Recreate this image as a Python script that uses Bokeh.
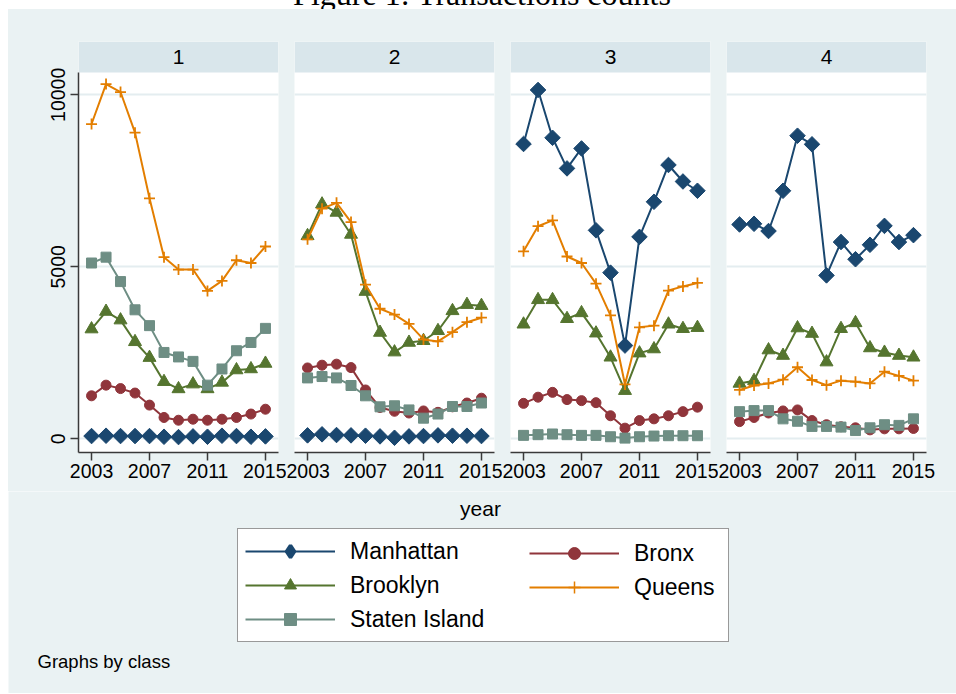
import numpy as np
from bokeh.plotting import figure
from bokeh.models import Range1d, BoxAnnotation, Label, Legend, LegendItem, Div, FixedTicker
from bokeh.layouts import row, column
from bokeh.embed import file_html
from bokeh.resources import INLINE

# ---------------- data ----------------
years = list(range(2003, 2016))
panel_names = ["1", "2", "3", "4"]
x_ticks = [2003, 2007, 2011, 2015]
y_ticks = [0, 5000, 10000]

# one list per class panel (1..4), values for 2003..2015
manhattan = [
    [80, 90, 80, 80, 80, 60, 50, 70, 60, 90, 80, 60, 70],
    [100, 130, 110, 100, 90, 70, 30, 70, 80, 100, 90, 90, 80],
    [8570, 10140, 8750, 7860, 8440, 6060, 4830, 2710, 5870, 6890, 7960, 7480, 7210],
    [6230, 6250, 6040, 7210, 8810, 8560, 4750, 5720, 5220, 5640, 6190, 5720, 5920],
]
bronx = [
    [1250, 1560, 1460, 1330, 980, 620, 540, 570, 540, 570, 620, 720, 860],
    [2060, 2140, 2170, 2070, 1420, 910, 800, 750, 810, 770, 930, 1040, 1180],
    [1030, 1210, 1350, 1140, 1110, 1050, 670, 310, 530, 580, 670, 790, 920],
    [500, 620, 750, 810, 840, 530, 410, 350, 320, 260, 290, 290, 300],
]
brooklyn = [
    [3190, 3700, 3450, 2820, 2360, 1660, 1450, 1590, 1450, 1640, 2000, 2030, 2190],
    [5900, 6820, 6580, 5940, 4280, 3090, 2520, 2800, 2850, 3140, 3720, 3900, 3870],
    [3330, 4040, 4040, 3490, 3660, 3070, 2370, 1400, 2490, 2610, 3330, 3200, 3230],
    [1610, 1690, 2580, 2420, 3220, 3060, 2230, 3200, 3370, 2640, 2510, 2420, 2370],
]
queens = [
    [9150, 10310, 10080, 8900, 6990, 5280, 4920, 4920, 4300, 4590, 5190, 5110, 5590],
    [5800, 6690, 6860, 6300, 4480, 3780, 3610, 3340, 2890, 2830, 3100, 3390, 3520],
    [5450, 6180, 6350, 5300, 5110, 4510, 3590, 1580, 3240, 3290, 4310, 4430, 4530],
    [1420, 1550, 1610, 1720, 2080, 1710, 1560, 1690, 1660, 1610, 1950, 1830, 1690],
]
staten = [
    [5110, 5280, 4570, 3750, 3290, 2510, 2380, 2250, 1560, 2030, 2560, 2800, 3210],
    [1770, 1810, 1770, 1550, 1250, 930, 960, 840, 600, 720, 940, 940, 1040],
    [100, 120, 140, 120, 100, 100, 60, 20, 60, 80, 90, 90, 90],
    [790, 820, 820, 580, 510, 360, 360, 340, 240, 320, 410, 390, 580],
]
series_names = ["Manhattan", "Bronx", "Brooklyn", "Queens", "Staten Island"]
series_values = [manhattan, bronx, brooklyn, queens, staten]

# ---------------- styles ----------------
BG = "#EAF2F3"
STRIP = "#D9E6EB"
GRID = "#E4EDF0"
AXIS = "#3A3A3A"
FONT = "Liberation Sans"
colors = ["#1A476F", "#90353B", "#55752F", "#E37E00", "#6E8E84"]
markers = ["square", "circle", "triangle", "cross", "square"]
legend_markers = ["diamond", "circle", "triangle", "cross", "square"]
angles = [np.pi / 4, 0, 0, 0, 0]
sizes = [11, 10, 13, 11, 10]

Y0, Y1, YTOP = -398, 10648, 11549
X0, X1 = 2002.1, 2015.9


def make_panel(idx, width, left, right, show_y):
    p = figure(width=width, height=482,
               x_range=Range1d(X0, X1), y_range=Range1d(Y0, YTOP),
               output_backend="svg", toolbar_location=None,
               min_border_left=left, min_border_right=right,
               min_border_top=32, min_border_bottom=39)
    p.background_fill_color = "white"
    p.border_fill_color = BG
    p.outline_line_color = None

    # strip header
    strip = BoxAnnotation(bottom=Y1, top=YTOP, fill_color=STRIP, fill_alpha=1.0,
                          line_color=None, level="underlay")
    p.add_layout(strip)
    p.add_layout(Label(x=(X0 + X1) / 2, y=(Y1 + YTOP) / 2, text=panel_names[idx],
                       text_align="center", text_baseline="middle",
                       text_font=FONT, text_font_size="21px", text_color="black"))

    for name, vals, c, m, a, s in zip(series_names, series_values, colors, markers, angles, sizes):
        p.line(years, vals[idx], line_color=c, line_width=2)
        if m == "cross":
            p.scatter(years, vals[idx], marker=m, size=s, line_color=c, line_width=1.8)
        else:
            p.scatter(years, vals[idx], marker=m, size=s, angle=a,
                      fill_color=c, line_color=c, line_width=1)

    p.xgrid.visible = False
    p.ygrid.ticker = FixedTicker(ticks=y_ticks)
    p.ygrid.grid_line_color = GRID
    p.ygrid.grid_line_width = 2

    xa = p.xaxis[0]
    xa.ticker = FixedTicker(ticks=x_ticks)
    xa.axis_line_color = AXIS
    xa.axis_line_width = 1.5
    xa.major_tick_line_color = AXIS
    xa.major_tick_line_width = 1.5
    xa.major_tick_out = 8
    xa.major_tick_in = 0
    xa.minor_tick_line_color = None
    xa.major_label_standoff = 3
    xa.major_label_text_font = FONT
    xa.major_label_text_font_size = "19.5px"
    xa.major_label_text_color = "black"

    ya = p.yaxis[0]
    if show_y:
        ya.ticker = FixedTicker(ticks=y_ticks)
        ya.bounds = (Y0, Y1)
        ya.axis_line_color = AXIS
        ya.axis_line_width = 1.5
        ya.major_tick_line_color = AXIS
        ya.major_tick_line_width = 1.5
        ya.major_tick_out = 8
        ya.major_tick_in = 0
        ya.minor_tick_line_color = None
        ya.major_label_standoff = 5
        ya.major_label_orientation = "vertical"
        ya.major_label_text_font = FONT
        ya.major_label_text_font_size = "19.5px"
        ya.major_label_text_color = "black"
    else:
        ya.visible = False
    return p


f1 = make_panel(0, 278, 70, 8, True)
f2 = make_panel(1, 216, 8, 8, False)
f3 = make_panel(2, 216, 8, 8, False)
f4 = make_panel(3, 238, 8, 30, False)

# ---------------- bottom area: axis title, legend, note ----------------
BW, BH = 948, 202
bottom = figure(width=BW, height=BH, x_range=Range1d(0, BW), y_range=Range1d(0, BH),
                output_backend="svg", toolbar_location=None,
                min_border_left=0, min_border_right=0, min_border_top=0, min_border_bottom=0)
bottom.background_fill_color = BG
bottom.border_fill_color = BG
bottom.outline_line_color = None
bottom.axis.visible = False
bottom.grid.visible = False

bottom.add_layout(Label(x=472, y=185, text="year", text_align="center", text_baseline="middle",
                        text_font=FONT, text_font_size="21px", text_color="black"))
bottom.add_layout(Label(x=29, y=32, text="Graphs by class", text_align="left", text_baseline="middle",
                        text_font=FONT, text_font_size="18.5px", text_color="black"))

# legend renderers: the real series (class 1), which fall outside this
# figure's ranges, so only their legend glyphs are visible
items = []
for name, vals, c, m in zip(series_names, series_values, colors, legend_markers):
    lr = bottom.line(years, vals[0], line_color=c, line_width=2)
    if m == "cross":
        sr = bottom.scatter(years, vals[0], marker=m, line_color=c, line_width=1.5)
    elif m == "diamond":
        sr = bottom.scatter(years, vals[0], marker=m, fill_color=c, line_color=c, line_width=3.5)
    else:
        sr = bottom.scatter(years, vals[0], marker=m, fill_color=c, line_color=c, line_width=1)
    items.append(LegendItem(label=name, renderers=[lr, sr]))

common = dict(glyph_width=90, glyph_height=30, label_height=30, label_standoff=15,
              padding=7, spacing=4, margin=0, orientation="vertical",
              label_text_font=FONT, label_text_font_size="23px", label_text_color="black")

leg1 = Legend(items=[items[0], items[2], items[4]], location=(229, 51),
              label_width=371, border_line_color="#333333", border_line_width=1.5,
              background_fill_color="white", background_fill_alpha=1.0, **common)
leg2 = Legend(items=[items[1], items[3]], location=(521, 91),
              border_line_color=None, background_fill_alpha=0.0, **common)
bottom.add_layout(leg1)
bottom.add_layout(leg2)

title = Div(text="Figure 1: Transactions counts", width=BW, height=30, margin=(-21, 0, 0, 0),
            styles={"text-align": "center",
                    "font-family": "Liberation Serif", "font-size": "32px",
                    "line-height": "30px", "color": "black"})

panels = row(f1, f2, f3, f4, spacing=0, styles={"background-color": BG})
layout = column(title, panels, bottom, spacing=0, margin=(0, 0, 0, 8))

open("out.html", "w").write(file_html(layout, INLINE))
